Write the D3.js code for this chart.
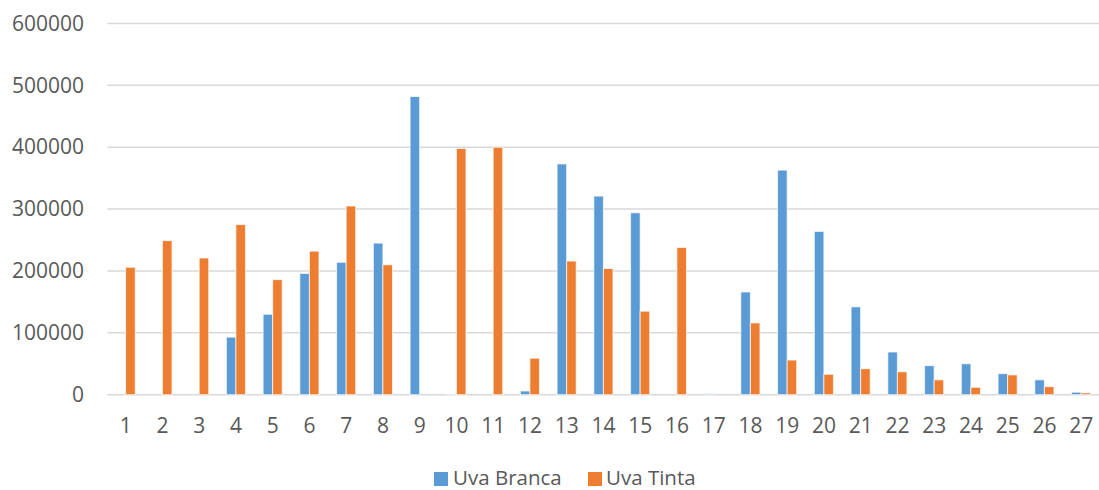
<!DOCTYPE html>
<html>
<head>
<meta charset="utf-8">
<script src="https://cdn.jsdelivr.net/npm/d3@7"></script>
<style>
  html, body { margin: 0; padding: 0; background: #fff; }
  svg text { font-family: "Open Sans", "Liberation Sans", sans-serif; fill: #595959; }
</style>
</head>
<body>
<svg id="chart" width="1099" height="490"></svg>
<script>
// Categories 1..27
const categories = ["1","2","3","4","5","6","7","8","9","10","11","12","13","14","15","16","17","18","19","20","21","22","23","24","25","26","27"];
const seriesNames = ["Uva Branca", "Uva Tinta"];
const uvaBranca = [0, 0, 0, 93000, 130000, 196000, 214000, 245000, 482000, 800, 0, 6000, 373000, 321000, 294000, 0, 1500, 166000, 363000, 264000, 142000, 69000, 47000, 50000, 34000, 24000, 4000];
const uvaTinta  = [206000, 249000, 221000, 275000, 186000, 232000, 305000, 210000, 0, 398000, 400000, 59000, 216000, 204000, 135000, 238000, 0, 116000, 56000, 33000, 42000, 37000, 24000, 12000, 32000, 13000, 3000];
const yTicks = [0, 100000, 200000, 300000, 400000, 500000, 600000];
const colors = ["#5b9bd5", "#ed7d31"];

const svg = d3.select("#chart");
const plot = { left: 107.3, right: 1099.5, top: 23.5, bottom: 394.7 };

const x0 = d3.scaleBand().domain(categories).range([plot.left, plot.right]).paddingInner(0.48).paddingOuter(0.24);
const x1 = d3.scaleBand().domain(seriesNames).range([0, x0.bandwidth()]).padding(0);
const y = d3.scaleLinear().domain([0, 600000]).range([plot.bottom, plot.top]);

// Gridlines
svg.append("g").selectAll("line").data(yTicks).join("line")
  .attr("x1", plot.left).attr("x2", plot.right)
  .attr("y1", d => y(d)).attr("y2", d => y(d))
  .attr("stroke", "#d9d9d9").attr("stroke-width", 1.5);

// Y axis labels
const yAxis = d3.axisLeft(y).tickValues(yTicks).tickFormat(d3.format("d")).tickSize(0).tickPadding(0);
const gy = svg.append("g").attr("transform", `translate(84,0)`).call(yAxis);
gy.select(".domain").remove();
gy.selectAll("text").attr("font-size", 21).attr("fill", "#595959")
  .style("font-family", '"Open Sans", "Liberation Sans", sans-serif');

// X axis labels
const xAxis = d3.axisBottom(x0).tickSize(0).tickPadding(0);
const gx = svg.append("g").attr("transform", `translate(0,${plot.bottom})`).call(xAxis);
gx.select(".domain").remove();
gx.selectAll("text").attr("font-size", 21).attr("fill", "#595959")
  .attr("dy", null).attr("y", 0).attr("transform", "translate(0,38)")
  .style("font-family", '"Open Sans", "Liberation Sans", sans-serif');

// Bars
const rows = categories.map((c, i) => ({ cat: c, values: [uvaBranca[i], uvaTinta[i]] }));
const groups = svg.append("g").selectAll("g").data(rows).join("g")
  .attr("transform", d => `translate(${x0(d.cat)},0)`);
groups.selectAll("rect")
  .data(d => d.values.map((v, k) => ({ name: seriesNames[k], v, k })))
  .join("rect")
  .attr("x", d => x1(d.name))
  .attr("width", x1.bandwidth())
  .attr("y", d => y(d.v))
  .attr("height", d => y(0) - y(d.v))
  .attr("fill", d => colors[d.k])
  .attr("stroke", "#ffffff").attr("stroke-opacity", 0.7).attr("stroke-width", 1);

// Legend
const legend = svg.append("g");
const legendItems = [
  { name: seriesNames[0], color: colors[0], sx: 434, tx: 453 },
  { name: seriesNames[1], color: colors[1], sx: 588, tx: 606 }
];
legendItems.forEach(it => {
  legend.append("rect").attr("x", it.sx).attr("y", 472).attr("width", 14).attr("height", 14).attr("fill", it.color);
  legend.append("text").attr("x", it.tx).attr("y", 484.5).attr("font-size", 20.5).text(it.name);
});
</script>
</body>
</html>
